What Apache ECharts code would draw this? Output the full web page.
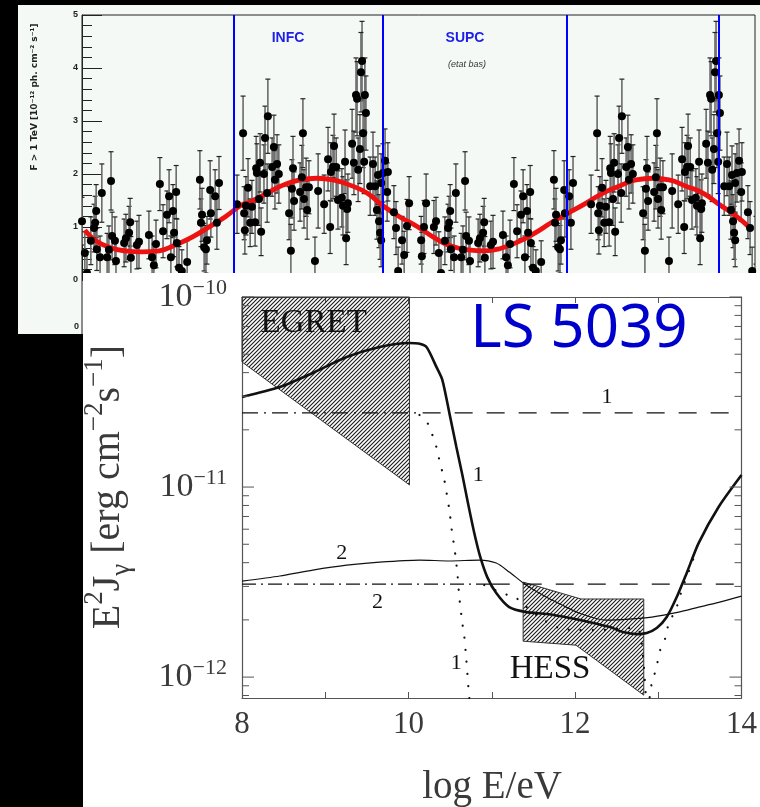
<!DOCTYPE html>
<html><head><meta charset="utf-8">
<script src="https://cdn.jsdelivr.net/npm/echarts@6/dist/echarts.min.js"></script>
<style>html,body{margin:0;padding:0;background:#000}#c{width:760px;height:807px}</style>
</head><body><div id="c"></div>
<script>
// ================= TOP PANEL: folded TeV light curve (one orbit, drawn twice) =================
const lcPhase = [0.000,0.008,0.014,0.025,0.034,0.037,0.040,0.042,0.051,0.056,0.071,0.076,0.082,0.085,0.093,0.096,0.119,0.124,0.133,0.136,0.138,0.155,0.161,0.189,0.198,0.203,0.209,0.220,0.229,0.240,0.246,0.251,0.257,0.260,0.266,0.268,0.274,0.282,0.297,0.333,0.336,0.339,0.345,0.350,0.353,0.362,0.364,0.376,0.381,0.387,0.438,0.455,0.458,0.460,0.463,0.469,0.475,0.480,0.489,0.492,0.494,0.500,0.503,0.506,0.514,0.517,0.523,0.525,0.537,0.542,0.545,0.551,0.556,0.585,0.590,0.593,0.596,0.599,0.616,0.621,0.624,0.627,0.633,0.636,0.641,0.658,0.667,0.684,0.695,0.701,0.703,0.709,0.712,0.718,0.723,0.734,0.737,0.743,0.746,0.749,0.751,0.763,0.768,0.774,0.777,0.780,0.785,0.791,0.788,0.794,0.797,0.799,0.802,0.814,0.822,0.828,0.833,0.836,0.839,0.842,0.845,0.845,0.850,0.856,0.862,0.864,0.881,0.887,0.893,0.904,0.910,0.918,0.924,0.958,0.960,0.966,0.972,0.994];
const lcFlux = [1.11,0.51,0.13,0.74,0.98,1.08,1.30,0.58,0.43,1.64,0.43,0.57,1.87,0.83,0.74,0.36,0.70,0.79,0.89,1.09,0.42,0.66,0.72,0.85,0.43,0.28,0.68,1.81,0.92,1.23,1.58,0.43,1.30,0.89,1.66,0.70,0.23,0.17,0.34,1.89,1.08,1.23,0.62,0.58,0.75,1.70,1.26,1.58,1.08,1.83,1.43,2.77,1.26,0.94,1.40,1.74,1.08,1.38,1.09,2.11,2.02,1.53,2.21,0.91,2.00,2.68,1.64,3.09,2.13,2.51,1.89,2.19,2.00,1.26,0.55,1.72,2.11,1.49,1.66,1.94,2.77,1.53,1.75,1.32,1.75,0.36,1.68,1.43,2.28,1.00,2.04,2.13,2.53,2.13,1.51,1.55,1.40,2.23,0.79,1.34,1.45,2.57,2.21,3.49,3.42,2.08,2.47,4.13,3.92,2.77,2.23,3.49,3.15,1.77,2.19,1.77,1.32,1.98,1.11,0.89,0.75,1.83,2.02,2.25,1.66,2.04,1.28,0.98,0.17,0.75,0.47,1.02,1.45,0.75,0.45,1.00,1.45,1.00];
const lcErr = [0.45,0.40,0.40,0.45,0.45,0.50,0.50,0.40,0.40,0.55,0.45,0.45,0.55,0.45,0.45,0.40,0.45,0.45,0.50,0.45,0.40,0.45,0.50,0.45,0.40,0.40,0.45,0.50,0.50,0.45,0.50,0.40,0.50,0.45,0.50,0.45,0.40,0.40,0.40,0.55,0.45,0.50,0.45,0.45,0.45,0.55,0.45,0.50,0.50,0.50,0.55,0.70,0.50,0.45,0.55,0.55,0.45,0.50,0.45,0.60,0.55,0.50,0.55,0.45,0.55,0.60,0.55,0.70,0.55,0.60,0.55,0.55,0.55,0.50,0.50,0.55,0.60,0.55,0.55,0.60,0.65,0.55,0.55,0.55,0.50,0.45,0.70,0.55,0.60,0.50,0.55,0.60,0.60,0.55,0.55,0.55,0.55,0.60,0.50,0.55,0.55,0.65,0.60,0.70,0.70,0.60,0.65,0.75,0.75,0.65,0.60,0.70,0.70,0.55,0.60,0.55,0.55,0.55,0.50,0.50,0.50,0.55,0.55,0.60,0.55,0.55,0.50,0.50,0.45,0.45,0.45,0.50,0.50,0.45,0.45,0.50,0.55,0.50];
const orbitCopies = [0, 1];
const fitPhase = [0.008,0.037,0.076,0.121,0.169,0.218,0.263,0.311,0.359,0.404,0.452,0.475,0.523,0.568,0.616,0.664,0.709,0.757,0.805,0.850,0.898,0.949,0.997,1.042,1.090,1.138,1.184,1.232,1.280,1.325,1.373,1.424,1.472,1.517,1.565,1.613,1.658,1.706,1.754,1.799,1.847,1.884];
const fitFlux  = [0.94,0.75,0.62,0.55,0.53,0.55,0.66,0.81,1.00,1.19,1.42,1.47,1.64,1.79,1.89,1.92,1.89,1.79,1.64,1.40,1.19,1.00,0.79,0.64,0.57,0.55,0.60,0.72,0.89,1.08,1.26,1.45,1.64,1.77,1.89,1.92,1.89,1.77,1.64,1.43,1.21,1.00];
const conjPhase = [0.427, 0.853, 1.373, 1.805];
const topPhaseRange = [0, 1.901];
const topFluxRange = [0, 5];

// ================= BOTTOM PANEL: LS 5039 SED (log10 units) =================
const thickE = [8.0,8.455,8.85,9.257,9.653,10.01,10.12,10.216,10.335,10.407,10.491,10.575,10.647,10.719,10.79,10.862,10.946,11.054,11.21,11.413,11.665,11.94,12.18,12.42,12.575,12.743,12.862,12.982,13.102,13.222,13.341,13.485,13.725,14.0];
const thickF = [-10.526,-10.474,-10.40,-10.316,-10.263,-10.242,-10.245,-10.263,-10.368,-10.437,-10.611,-10.789,-10.937,-11.095,-11.242,-11.368,-11.474,-11.558,-11.632,-11.658,-11.668,-11.689,-11.711,-11.737,-11.763,-11.774,-11.768,-11.742,-11.684,-11.579,-11.453,-11.295,-11.105,-10.937];
const thinE = [8.0,8.455,8.85,9.257,9.653,10.13,10.49,10.85,11.054,11.21,11.413,11.653,11.844,12.048,12.371,12.647,12.922,13.246,13.485,13.689,14.0];
const thinF = [-11.495,-11.468,-11.437,-11.411,-11.395,-11.384,-11.389,-11.384,-11.400,-11.447,-11.516,-11.579,-11.621,-11.663,-11.700,-11.695,-11.684,-11.658,-11.632,-11.611,-11.574];
const dotAE = [10.132,10.228,10.287,10.335,10.371,10.407,10.443,10.467,10.491,10.527,10.551,10.587,10.611,10.647,10.671,10.695,10.707,10.719,10.731];
const dotAF = [-10.621,-10.663,-10.726,-10.789,-10.858,-10.921,-10.989,-11.058,-11.121,-11.253,-11.316,-11.453,-11.584,-11.716,-11.789,-11.911,-11.979,-12.053,-12.11];
const dotBE = [10.91,11.126,11.293,11.389,11.569,11.808,12.048,12.287,12.611,12.766,12.826,12.862,12.898,12.922,12.97,13.03,13.09,13.126,13.21,13.246,13.305,13.365,13.425];
const dotBF = [-11.516,-11.558,-11.584,-11.621,-11.684,-11.742,-11.753,-11.753,-11.742,-11.753,-11.937,-12.121,-12.105,-12.032,-11.963,-11.847,-11.789,-11.716,-11.647,-11.595,-11.516,-11.447,-11.374];
const hiLevel = -10.61, hiSplitE = 10.12;
const loLevel = -11.511, loSplitE = 11.0;
const egretE = [8.0, 10.012, 10.012, 8.0];
const egretF = [-10.0, -10.0, -10.989, -10.342];
const hessE = [11.377, 12.072, 12.826, 12.826, 12.012, 11.377];
const hessF = [-11.5, -11.589, -11.589, -12.095, -11.832, -11.811];
const sedERange = [8, 14];
const sedFRange = [-12.11, -10.0];
const yMajor = [-12, -11, -10];
const yMajorExp = ['\u221212', '\u221211', '\u221210'];
const yMinorVals = [8e-13, 9e-13, 2e-12, 3e-12, 4e-12, 5e-12, 6e-12, 7e-12, 8e-12, 9e-12, 2e-11, 3e-11, 4e-11, 5e-11, 6e-11, 7e-11, 8e-11, 9e-11];
const annotations = [
  {E: 12.383, F: -10.526, text: '1', kind: 'num'},
  {E: 10.838, F: -10.937, text: '1', kind: 'num'},
  {E: 9.198,  F: -11.347, text: '2', kind: 'num'},
  {E: 9.629,  F: -11.605, text: '2', kind: 'num'},
  {E: 10.575, F: -11.926, text: '1', kind: 'num'},
  {E: 8.862,  F: -10.137, text: 'EGRET', kind: 'inst'},
  {E: 11.70,  F: -11.958, text: 'HESS', kind: 'inst'},
  {E: 12.048, F: -10.174, text: 'LS 5039', kind: 'title'}
];

// ---------- helpers ----------
function makeHatch() {
  const c = document.createElement('canvas');
  c.width = 4; c.height = 4;
  const g = c.getContext('2d');
  g.strokeStyle = '#1e1e1e'; g.lineWidth = 1.15;
  g.beginPath();
  g.moveTo(0, 4); g.lineTo(4, 0);
  g.moveTo(-1, 1); g.lineTo(1, -1);
  g.moveTo(3, 5); g.lineTo(5, 3);
  g.stroke();
  return c;
}
const hatch = {image: makeHatch(), repeat: 'repeat'};
const zip = (a, b) => a.map((v, i) => [v, b[i]]);
const serif = 'Liberation Serif';
const inkGray = '#3a3a3a';

const pts = [], bars = [];
orbitCopies.forEach(c => {
  lcPhase.forEach((p, i) => {
    pts.push([p + c, lcFlux[i]]);
    bars.push([p + c, lcFlux[i] - lcErr[i], lcFlux[i] + lcErr[i]]);
  });
});

const tickData = [];
const tickMajor = [];
const tickExp = [];
yMajor.forEach((L, i) => { tickData.push([sedERange[0], L]); tickMajor.push(true); tickExp.push(yMajorExp[i]); });
yMinorVals.forEach(v => { tickData.push([sedERange[0], Math.log10(v)]); tickMajor.push(false); tickExp.push(''); });

function polygonSeries(E, F) {
  return {
    type: 'custom', xAxisIndex: 1, yAxisIndex: 1, z: 12, silent: true,
    data: zip(E, F),
    renderItem: (params, api) => {
      if (params.dataIndex !== 0) return null;
      const points = E.map((e, i) => api.coord([e, F[i]]));
      return {type: 'polygon', shape: {points}, style: {fill: hatch, stroke: '#333', lineWidth: 1}};
    }
  };
}
function curve(E, F, width, type, extra) {
  return Object.assign({
    type: 'line', xAxisIndex: 1, yAxisIndex: 1, z: 13, data: zip(E, F),
    symbol: 'none', smooth: 0.25, silent: true,
    lineStyle: {color: '#111', width, type}
  }, extra || {});
}

const annData = annotations.map(a => {
  let label;
  if (a.kind === 'num') label = {fontFamily: serif, fontSize: 22, color: '#111'};
  else if (a.kind === 'inst') label = {fontFamily: serif, fontSize: 33, color: '#111'};
  else label = {fontFamily: 'Noto Sans', fontSize: 60, color: '#0000cc'};
  return {value: [a.E, a.F], label: Object.assign({show: true, position: 'inside', formatter: a.text}, label)};
});

const option = {
  backgroundColor: '#000',
  animation: false,
  graphic: {elements: [
    {type: 'rect', shape: {x: 18, y: 5, width: 742, height: 268}, style: {fill: '#f4f9f5'}, z: -5, silent: true},
    {type: 'rect', shape: {x: 18, y: 273, width: 65, height: 61}, style: {fill: '#f4f9f5'}, z: -5, silent: true},
    {type: 'line', shape: {x1: 82, y1: 280, x2: 82, y2: 334}, style: {stroke: '#222', lineWidth: 1}, z: 1},
    {type: 'text', x: 79, y: 327, style: {text: '0', font: 'bold 9px "Liberation Sans"', fill: '#222', align: 'right', verticalAlign: 'middle'}, z: 1},
    {type: 'text', x: 35, y: 97, rotation: Math.PI / 2,
      style: {text: 'F > 1 TeV [10\u207B\u00B9\u00B2 ph. cm\u207B\u00B2 s\u207B\u00B9]', font: 'bold 9px "DejaVu Sans"', fill: '#222', align: 'center', verticalAlign: 'middle'}, z: 6},
    {type: 'text', x: 288, y: 38, style: {text: 'INFC', font: 'bold 14px "Liberation Sans"', fill: '#1e1ee8', align: 'center', verticalAlign: 'middle'}, z: 6},
    {type: 'text', x: 465, y: 38, style: {text: 'SUPC', font: 'bold 14px "Liberation Sans"', fill: '#1e1ee8', align: 'center', verticalAlign: 'middle'}, z: 6},
    {type: 'text', x: 467, y: 64, style: {text: '(etat bas)', font: 'italic 9px "Liberation Sans"', fill: '#333', align: 'center', verticalAlign: 'middle'}, z: 6},
    {type: 'rect', shape: {x: 83, y: 273, width: 677, height: 534}, style: {fill: '#fff'}, z: 10, silent: true},
    {type: 'text', x: 108, y: 487, rotation: Math.PI / 2,
      style: {
        text: '{n|E}{sup|2}{n|J}{sub|\u03B3}{n| [erg cm}{sup|\u22122}{n|s}{sup|\u22121}{n|]}',
        align: 'center', verticalAlign: 'middle',
        rich: {
          n: {fontFamily: serif, fontSize: 40, fill: inkGray, lineHeight: 54},
          sup: {fontFamily: serif, fontSize: 27, fill: inkGray, verticalAlign: 'top'},
          sub: {fontFamily: serif, fontSize: 27, fill: inkGray, verticalAlign: 'bottom'}
        }
      }, z: 15},
    {type: 'text', x: 492, y: 788, style: {text: 'log E/eV', font: '39px "Liberation Serif"', fill: inkGray, align: 'center', verticalAlign: 'middle'}, z: 15}
  ]},
  grid: [
    {left: 82, top: 15, width: 673, height: 265, show: true, borderColor: '#222', borderWidth: 1, backgroundColor: 'transparent', z: 1},
    {left: 242, top: 297, width: 501, height: 401, show: false, z: 11}
  ],
  xAxis: [
    {gridIndex: 0, type: 'value', min: topPhaseRange[0], max: topPhaseRange[1], show: false},
    {gridIndex: 1, type: 'value', min: sedERange[0], max: sedERange[1], interval: 1, position: 'bottom', z: 11,
      axisLine: {lineStyle: {color: '#555', width: 1.2}},
      axisTick: {inside: true, length: 6, lineStyle: {color: '#555', width: 1}},
      axisLabel: {formatter: v => (v % 2 === 0 ? String(v) : ''), fontFamily: serif, fontSize: 31, color: inkGray, margin: 11},
      splitLine: {show: false}},
    {gridIndex: 1, type: 'value', min: sedERange[0], max: sedERange[1], interval: 1, position: 'top', z: 11,
      axisLine: {lineStyle: {color: '#555', width: 1.2}},
      axisTick: {inside: true, length: 6, lineStyle: {color: '#555', width: 1}},
      axisLabel: {show: false}, splitLine: {show: false}}
  ],
  yAxis: [
    {gridIndex: 0, type: 'value', min: topFluxRange[0], max: topFluxRange[1], interval: 1, z: 1,
      axisLine: {show: true, lineStyle: {color: '#222', width: 1}},
      axisTick: {show: true, inside: true, length: 20, lineStyle: {color: '#222', width: 1}},
      minorTick: {show: true, splitNumber: 5, length: 10, lineStyle: {color: '#222', width: 1}},
      axisLabel: {fontFamily: 'Liberation Sans', fontWeight: 'bold', fontSize: 9, color: '#222', margin: 4},
      splitLine: {show: false}},
    {gridIndex: 1, type: 'value', min: sedFRange[0], max: sedFRange[1], position: 'left', z: 11,
      axisLine: {show: true, lineStyle: {color: '#555', width: 1.2}},
      axisTick: {show: false}, axisLabel: {show: false}, splitLine: {show: false}},
    {gridIndex: 1, type: 'value', min: sedFRange[0], max: sedFRange[1], position: 'right', z: 11,
      axisLine: {show: true, lineStyle: {color: '#555', width: 1.2}},
      axisTick: {show: false}, axisLabel: {show: false}, splitLine: {show: false}}
  ],
  series: [
    // ---- top panel ----
    {type: 'custom', xAxisIndex: 0, yAxisIndex: 0, z: 2, clip: true, silent: true, data: bars,
      renderItem: (params, api) => {
        const x = api.value(0);
        const a = api.coord([x, api.value(2)]);
        const b = api.coord([x, api.value(1)]);
        const cw = 2.5;
        return {type: 'group', children: [
          {type: 'line', shape: {x1: a[0], y1: a[1], x2: b[0], y2: b[1]}, style: {stroke: '#6a6a6a', lineWidth: 1.6}},
          {type: 'line', shape: {x1: a[0] - cw, y1: a[1], x2: a[0] + cw, y2: a[1]}, style: {stroke: '#222', lineWidth: 1.2}},
          {type: 'line', shape: {x1: b[0] - cw, y1: b[1], x2: b[0] + cw, y2: b[1]}, style: {stroke: '#222', lineWidth: 1.2}}
        ]};
      }},
    {type: 'line', xAxisIndex: 0, yAxisIndex: 0, z: 3, data: zip(fitPhase, fitFlux), symbol: 'none', smooth: true, silent: true,
      lineStyle: {color: '#ee1111', width: 4.8}},
    {type: 'scatter', xAxisIndex: 0, yAxisIndex: 0, z: 4, data: pts, symbol: 'circle', symbolSize: 8, silent: true,
      itemStyle: {color: '#000', opacity: 1}},
    {type: 'line', xAxisIndex: 0, yAxisIndex: 0, z: 5, data: [], silent: true,
      markLine: {silent: true, symbol: ['none', 'none'], label: {show: false},
        lineStyle: {color: '#0000ff', width: 2, type: 'solid'},
        data: conjPhase.map(p => ({xAxis: p}))}},
    // ---- bottom panel ----
    polygonSeries(egretE, egretF),
    polygonSeries(hessE, hessF),
    curve([sedERange[0], hiSplitE], [hiLevel, hiLevel], 1.3, [16, 6, 2, 6], {smooth: false}),
    curve([hiSplitE + 0.05, sedERange[1]], [hiLevel, hiLevel], 1.3, [18, 14], {smooth: false}),
    curve([sedERange[0], loSplitE], [loLevel, loLevel], 1.1, [14, 5, 2, 5], {smooth: false}),
    curve([loSplitE, sedERange[1]], [loLevel, loLevel], 1.1, [18, 14], {smooth: false}),
    curve(thinE, thinF, 1.2, 'solid'),
    curve(thickE, thickF, 2.6, 'solid'),
    curve(dotAE, dotAF, 2.2, [0.1, 12], {lineStyle: {color: '#111', width: 2.2, type: [0.1, 12], cap: 'round'}}),
    curve(dotBE, dotBF, 2.2, [0.1, 12], {lineStyle: {color: '#111', width: 2.2, type: [0.1, 12], cap: 'round'}}),
    {type: 'scatter', xAxisIndex: 1, yAxisIndex: 1, z: 14, symbolSize: 0, silent: true, data: annData,
      itemStyle: {opacity: 1}},
    {type: 'custom', xAxisIndex: 1, yAxisIndex: 1, z: 14, silent: true, data: tickData,
      renderItem: (params, api) => {
        const L = api.value(1);
        const i = params.dataIndex;
        const a = api.coord([sedERange[0], L]);
        const b = api.coord([sedERange[1], L]);
        const len = tickMajor[i] ? 12 : 7;
        const kids = [
          {type: 'line', shape: {x1: a[0], y1: a[1], x2: a[0] + len, y2: a[1]}, style: {stroke: '#555', lineWidth: 1}},
          {type: 'line', shape: {x1: b[0] - len, y1: b[1], x2: b[0], y2: b[1]}, style: {stroke: '#555', lineWidth: 1}}
        ];
        if (tickMajor[i]) {
          kids.push({type: 'text', x: a[0] - 15, y: a[1], style: {
            text: '{b|10}{s|' + tickExp[i] + '}', align: 'right', verticalAlign: 'middle',
            rich: {
              b: {fontFamily: serif, fontSize: 34, fill: inkGray, lineHeight: 40},
              s: {fontFamily: serif, fontSize: 22, fill: inkGray, verticalAlign: 'top'}
            }}});
        }
        return {type: 'group', children: kids};
      }}
  ]
};

const chart = echarts.init(document.getElementById('c'), null, {renderer: 'canvas', width: 760, height: 807});
chart.setOption(option);
</script>
</body></html>
